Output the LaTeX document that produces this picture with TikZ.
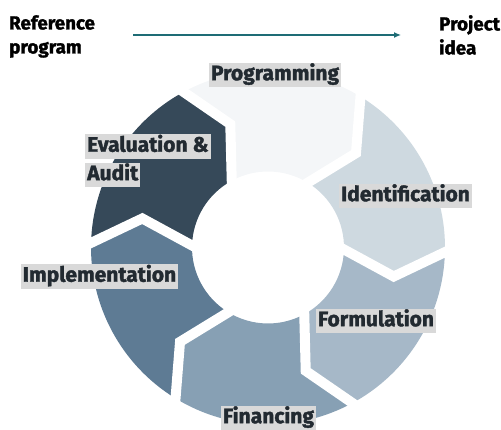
\documentclass[tikz,border=0pt]{standalone}
\usepackage{fontspec}
\setmainfont{Fira Sans}[BoldFeatures={FakeBold=1.6}]
\usetikzlibrary{arrows.meta,calc}
\definecolor{cProg}{HTML}{F4F6F8}
\definecolor{cIdent}{HTML}{CED9E0}
\definecolor{cForm}{HTML}{A6B8C8}
\definecolor{cFin}{HTML}{87A0B4}
\definecolor{cImpl}{HTML}{5E7B94}
\definecolor{cEval}{HTML}{364959}
\definecolor{labgray}{HTML}{D9D9D9}
\definecolor{labtext}{HTML}{222A31}
\definecolor{arrowteal}{HTML}{1E6C75}
\tikzset{
  lab/.style={fill=labgray, text=labtext, inner xsep=2pt, inner ysep=3pt,
    font=\bfseries\fontsize{21}{22}\selectfont, text height=14.5pt, text depth=4pt},
  toplab/.style={text=black, align=left, inner sep=0pt,
    font=\bfseries\fontsize{18.8}{24}\selectfont},
  gap/.style={white, line width=10pt, line join=miter}
}
\begin{document}
\begin{tikzpicture}[x=1pt,y=1pt]
\useasboundingbox (0,0) rectangle (501,430);
\begin{scope}[shift={(268,182.5)}]
\def\R{177}\def\r{76}\def\rm{129}\def\d{11.5}
\foreach \a/\col in {118.5/cProg, 58.5/cIdent, -1.5/cForm, -61.5/cFin, -121.5/cImpl, 178.5/cEval}{
  \pgfmathsetmacro\b{\a-60}
  \pgfmathsetmacro\t{\a-60-\d}
  \pgfmathsetmacro\n{\a-\d}
  \fill[\col] (\a:\R) arc[start angle=\a, end angle=\b, radius=\R]
     -- (\t:\rm) -- (\b:\r) arc[start angle=\b, end angle=\a, radius=\r]
     -- (\n:\rm) -- cycle;
}
\foreach \a in {118.5, 58.5, -1.5, -61.5, -121.5, 178.5}{
  \pgfmathsetmacro\n{\a-\d}
  \coordinate (o) at (\a:\R);
  \coordinate (i) at (\a:\r);
  \coordinate (p) at (\n:\rm);
  \draw[gap] ($(p)!1.2!(o)$) -- (p) -- ($(p)!1.3!(i)$);
}
\end{scope}
% labels
\node[lab] (prog) at (275,355) {Programming};
\node[lab] (ident) at (405.5,234) {Identification};
\node[lab] (form) at (376,109) {Formulation};
\node[lab] (fin) at (268.5,12) {Financing};
\node[lab] (impl) at (99.5,153.5) {Implementation};
\node[lab, anchor=west] (eval1) at (85,283.5) {Evaluation \&};
\node[lab, anchor=west] (eval2) at (85,255) {Audit};
% top
\node[toplab, anchor=north west] (ref) at (9,415) {Reference\\program};
\node[toplab, anchor=north west] (proj) at (439,415) {Project\\idea};
\coordinate (aS) at (133,395);
\coordinate (aE) at (401,395);
\draw[arrowteal, line width=1.2pt, -{Latex[length=7pt,width=6pt]}] (aS) -- (aE);
\end{tikzpicture}
\end{document}
